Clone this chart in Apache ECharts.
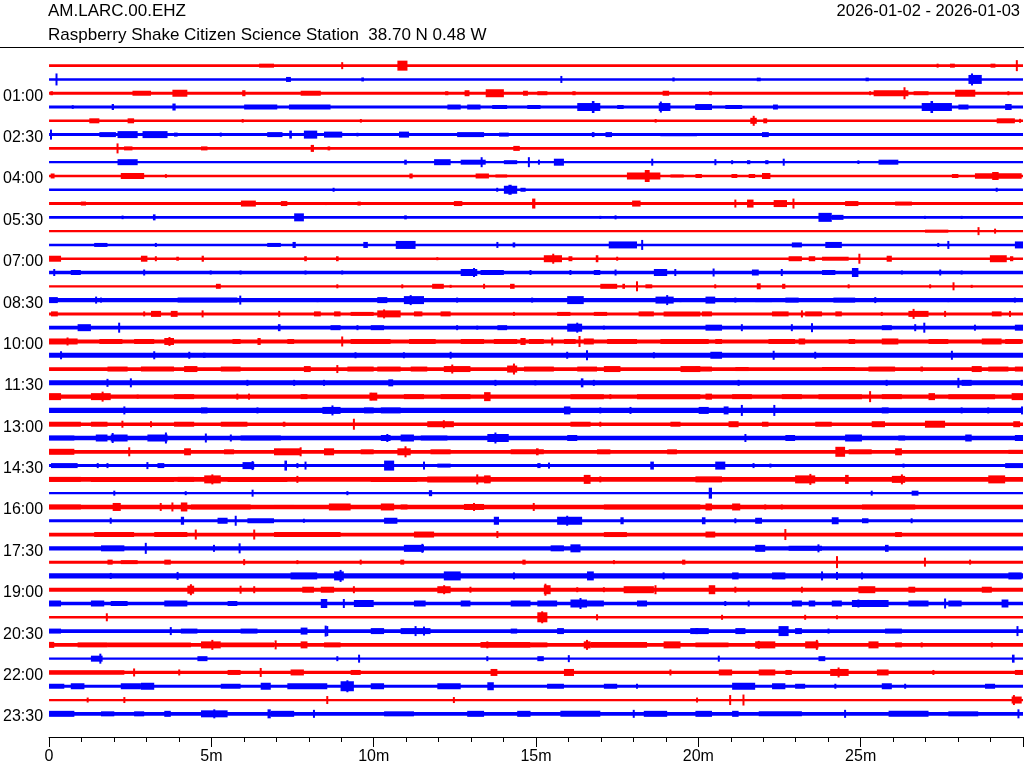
<!DOCTYPE html>
<html><head><meta charset="utf-8">
<script src="https://cdn.jsdelivr.net/npm/echarts@6/dist/echarts.min.js"></script>
<style>html,body{margin:0;padding:0;background:#fff}#c{width:1024px;height:768px}</style>
</head><body><div id="c"></div>
<script>
// ---- header texts ----
const stationCode = "AM.LARC.00.EHZ";
const stationName = "Raspberry Shake Citizen Science Station  38.70 N 0.48 W";
const dateRange = "2026-01-02 - 2026-01-03";

// ---- axis ticks ----
const xTickValues = [0, 5, 10, 15, 20, 25];
const xTickLabels = ["0", "5m", "10m", "15m", "20m", "25m"];
const yTickLines = [2, 5, 8, 11, 14, 17, 20, 23, 26, 29, 32, 35, 38, 41, 44, 47];
const yTickLabels = ["01:00","02:30","04:00","05:30","07:00","08:30","10:00","11:30","13:00","14:30","16:00","17:30","19:00","20:30","22:00","23:30"];

// ---- trace data: 48 half-hour lines ----
// background noise half-amplitude per line
const traceBase = [1.3,1.3,1.5,1.5,1.3,1.5,1.3,1.1,1.3,1.3,1.5,1.3,
                   1.1,1.3,1.3,1.8,1.1,2.1,1.5,1.9,2.0,2.4,1.9,2.5,
                   2.1,2.6,1.8,2.2,1.9,1.5,2.3,1.2,2.2,1.5,1.9,2.2,
                   1.5,2.6,2.0,1.7,1.2,1.8,1.8,1.2,1.6,1.5,1.1,1.8];
// bursts per line: [start minute, end minute, half-amplitude]
const traceEvents = [
 [[6.47,6.93,2],[9.0,9.06,3.5],[10.73,11.04,5],[27.34,27.4,2],[27.75,27.9,2],[29.0,29.15,2],[29.78,29.84,5.5]],
 [[0.2,0.26,6],[7.3,7.45,2.5],[9.62,9.7,2],[15.75,15.81,3.5],[19.2,19.27,2],[21.8,21.92,1.8],[25.15,25.25,1.8],[28.32,28.73,4.5],[28.4,28.46,6]],
 [[0.04,0.12,2],[2.57,3.14,2.5],[3.8,4.26,3.5],[5.95,6.05,3],[7.75,8.37,2.5],[12.2,12.3,2],[12.8,12.95,3],[13.45,14.01,4],[14.6,14.75,2.5],[15.04,15.35,2],[16.12,16.22,2],[18.9,19.1,2.5],[20.33,20.42,2],[25.26,25.32,2],[25.4,26.47,3],[26.32,26.38,6],[26.63,27.09,2],[27.91,28.53,3.5],[29.52,29.58,2]],
 [[0.7,0.76,1.8],[1.93,2.0,3],[3.8,3.9,3.5],[6.01,7.03,2.5],[7.39,8.67,2.5],[12.27,12.68,2.5],[12.88,13.29,2.5],[13.65,14.11,2],[14.73,15.14,2],[16.27,16.98,4],[16.72,16.8,6],[17.5,17.7,2],[18.78,19.14,4],[18.82,18.87,5.5],[19.9,20.0,2.5],[19.91,20.42,3],[20.83,21.35,2],[22.3,22.45,2.5],[26.88,27.81,4],[27.15,27.23,6],[28.01,28.32,2.5],[29.45,29.65,3]],
 [[1.24,1.55,2.5],[2.42,2.62,2.5],[5.94,5.99,1.8],[9.58,9.63,1.8],[18.66,18.71,1.8],[21.6,21.8,3],[21.68,21.73,5],[22.0,22.12,2.5],[29.19,29.75,2.5],[29.88,29.94,2]],
 [[0.03,0.09,5],[1.55,2.06,2.5],[2.11,2.73,3.5],[2.88,3.65,3.5],[3.85,3.96,2],[5.26,5.32,2],[6.72,7.19,2.5],[7.4,7.48,4],[7.85,8.26,4],[8.47,9.03,3],[9.47,9.53,1.8],[10.78,11.09,3],[12.57,13.4,2.5],[13.86,14.16,2],[16.72,16.8,2.5],[17.14,17.34,2.5],[18.83,19.96,1.6],[21.96,22.17,2.5]],
 [[2.08,2.14,5],[2.31,2.57,2],[4.68,4.88,2],[8.06,8.16,3.5],[8.58,8.66,2],[14.3,14.5,2.5]],
 [[2.11,2.73,3],[10.94,11.02,2.5],[11.86,12.37,3],[12.68,13.45,2.5],[13.3,13.35,5],[14.01,14.42,2],[14.76,14.8,5],[15.06,15.12,2.5],[15.55,15.86,3.5],[18.55,18.61,3.5],[20.5,20.55,3],[21.02,21.06,2],[21.5,21.6,2],[22.06,22.16,2],[22.6,22.66,3.5],[24.9,24.96,1.8],[25.55,26.16,2.5]],
 [[0.05,0.17,2.5],[2.21,2.93,3],[3.57,3.63,1.8],[11.1,11.2,2.5],[13.14,13.55,2.5],[13.75,14.11,1.5],[17.8,18.83,3.5],[18.35,18.5,6],[19.14,19.55,1.5],[19.91,20.11,2],[21.02,21.2,2],[21.55,21.75,2],[21.96,22.22,3],[27.81,28.01,2],[28.52,29.96,2.8],[29.05,29.25,4]],
 [[8.74,8.79,2],[13.78,13.83,2],[14.01,14.42,4],[14.15,14.25,5],[14.52,14.68,2],[29.16,29.22,2]],
 [[0.98,1.14,2],[5.91,6.37,3],[7.14,7.34,2.5],[8.5,8.55,1.5],[9.5,9.6,2],[12.47,12.73,2.5],[14.88,14.98,5],[17.96,18.22,3],[21.11,21.17,4],[21.5,21.7,4],[22.32,22.73,3.5],[22.9,22.96,5],[24.52,24.93,2.5],[26.06,26.58,2]],
 [[2.24,2.29,1.8],[3.2,3.28,3],[7.55,7.85,4],[10.94,11.02,2],[16.96,17.0,1.5],[17.42,17.48,2],[23.7,24.11,4.5],[24.11,24.47,2.5],[26.96,27.0,1.5],[28.09,28.13,1.5]],
 [[26.98,27.7,1.5],[28.6,28.66,4],[29.11,29.17,2.5]],
 [[1.39,1.8,2],[3.26,3.32,2],[6.72,7.14,2],[7.5,7.6,3],[9.68,9.82,3],[10.68,11.29,4],[13.78,13.84,3],[14.28,14.36,2.5],[17.24,18.11,3.5],[18.25,18.29,5],[22.88,23.19,2.5],[23.91,24.42,3],[27.36,27.42,2],[27.68,27.72,4],[29.75,30,3.5]],
 [[0.0,0.37,3],[2.83,3.03,3],[3.26,3.32,2.5],[3.92,4.0,2],[4.7,4.77,3],[7.86,7.94,2.5],[8.84,8.92,2.5],[11.94,11.98,1.5],[15.24,15.8,3.5],[15.5,15.56,5],[16.0,16.12,2.5],[16.84,16.92,3.5],[17.48,17.52,2],[22.78,23.19,2.5],[23.4,23.6,2.5],[23.81,24.63,2],[24.94,24.98,5],[25.8,25.96,3],[28.98,29.5,3.5],[29.6,29.7,2.5]],
 [[0.13,0.19,3.5],[0.67,0.98,2.5],[2.9,2.96,3],[4.95,5.01,2],[5.87,5.93,2],[7.87,7.93,2],[9.0,9.06,2],[12.68,13.19,3.5],[13.06,13.12,4.5],[13.29,14.01,2.5],[14.8,14.86,2.5],[16.03,16.09,2.5],[16.78,16.98,2.5],[17.42,17.48,3],[18.63,19.04,3.5],[19.26,19.32,3.5],[20.44,20.5,4],[21.65,21.86,3],[22.54,22.6,3.5],[23.81,24.22,2.5],[24.73,24.93,4.5],[26.24,26.3,2],[27.42,27.48,3],[28.08,28.14,2]],
 [[5.14,5.29,2.5],[8.85,8.91,2],[10.85,10.91,2],[11.8,12.16,2.5],[12.35,12.39,1.5],[13.37,13.43,2.5],[14.2,14.34,2.5],[16.98,17.5,2.5],[17.66,17.74,2.5],[18.09,18.13,5],[18.37,18.58,2],[20.49,20.55,2],[21.8,21.92,3],[22.58,22.68,2.5],[24.6,24.66,2],[27.11,27.17,2],[27.84,27.88,4],[28.4,28.44,1.5]],
 [[0.0,0.27,3],[1.43,1.47,3.5],[1.58,1.62,2.5],[3.96,5.8,2.5],[5.86,5.92,4.5],[8.25,8.29,2],[10.11,10.42,3],[10.93,11.55,4],[11.11,11.17,5],[12.54,12.6,2.5],[14.85,14.91,2.5],[15.96,16.47,4],[18.68,19.24,3.5],[19.01,19.07,5],[19.42,19.48,2],[20.22,20.52,3.5],[21.11,21.17,2.5],[21.75,22.27,2],[22.68,23.09,2.5],[24.16,24.83,2.5],[25.42,25.48,3],[27.67,27.73,2],[29.72,29.78,2.5]],
 [[0.06,0.27,2.5],[2.9,2.96,2.5],[3.14,3.45,3],[3.75,3.96,3],[4.7,4.76,3.5],[7.06,7.12,3],[8.16,8.37,2.5],[8.78,8.98,2.5],[9.29,10.0,2],[10.11,10.83,3.5],[10.29,10.35,4.5],[11.24,11.5,2.5],[12.06,12.37,2.5],[14.3,14.34,2],[15.65,16.06,2],[16.78,17.19,2],[18.16,18.63,2.5],[18.93,20.06,2.5],[20.11,20.42,2.5],[22.27,22.78,2.5],[23.16,23.22,3.5],[23.29,23.81,2.5],[24.22,24.42,2.5],[25.62,25.68,2],[26.47,27.09,3],[26.6,26.66,5],[27.57,27.63,3],[29.04,29.34,2.5],[29.57,29.63,3]],
 [[0.88,1.29,3.5],[2.14,2.18,5],[7.05,7.13,3.5],[8.67,8.98,2.5],[9.47,9.53,2.5],[9.91,10.32,2.5],[12.54,12.6,2.5],[13.16,13.22,2],[13.81,14.11,2.5],[15.96,16.42,4],[16.24,16.3,5],[17.06,17.12,2],[20.22,20.73,3],[21.31,21.37,3.5],[22.85,22.91,3.5],[23.47,23.53,4.5],[25.65,25.96,2.5],[26.65,26.71,3.5],[26.94,26.98,5],[28.49,28.55,3],[29.75,30,3]],
 [[0.0,0.88,3],[0.54,0.6,4],[1.55,2.26,2.5],[2.62,3.24,2.5],[3.55,3.85,3.5],[3.68,3.74,4.5],[5.65,5.9,2.5],[6.42,6.52,3.5],[7.34,7.55,2.5],[9.01,9.05,5],[9.29,10.0,2.5],[9.91,10.52,2.5],[11.09,11.91,2.5],[12.68,13.4,2.5],[13.7,14.42,2.5],[14.52,14.68,3.5],[14.78,15.24,2.5],[15.47,15.53,4],[15.86,16.22,2.5],[16.32,16.36,5.5],[16.47,16.78,3],[17.19,18.11,2.5],[18.83,20.06,2.5],[19.91,20.32,2.5],[20.52,20.73,2.5],[22.16,22.98,2.5],[23.09,23.29,3],[24.63,24.83,2.5],[25.65,26.16,3],[27.09,27.7,2.5],[28.73,29.34,3],[29.45,29.96,2.5]],
 [[0.34,0.4,4],[3.21,3.27,4],[4.29,4.35,3.5],[4.74,4.82,2.5],[9.41,9.47,3],[10.9,10.96,3],[12.34,12.4,3.5],[15.93,15.99,3.5],[16.55,16.59,5],[18.6,18.66,3],[20.37,20.73,3.5],[22.3,22.34,4.5],[23.57,23.63,3.5],[27.79,27.83,4.5]],
 [[1.8,2.42,2.5],[2.83,3.85,2.5],[4.16,4.57,3],[5.29,5.9,2.5],[7.85,8.06,3],[8.86,8.9,4],[9.19,10.0,2.5],[10.11,10.83,2.5],[11.14,11.65,2.5],[12.16,12.98,3],[12.4,12.44,4.5],[14.11,14.42,3.5],[14.3,14.34,5.5],[14.63,15.55,2.5],[16.27,16.88,2.5],[17.09,17.6,3],[19.45,20.06,3],[19.91,20.42,2.5],[21.14,21.55,2],[23.81,24.83,2],[25.24,26.06,2.5],[26.84,26.92,2.5],[28.42,28.73,3],[28.93,29.55,2.5],[29.75,30,2.5]],
 [[1.77,1.83,4],[2.49,2.55,4.5],[6.08,6.14,3],[7.52,7.58,3],[8.44,8.5,3],[10.45,10.6,3.5],[13.72,13.78,3],[14.95,15.01,2.5],[16.38,16.46,4.5],[16.75,16.81,3],[21.21,21.27,3],[25.77,25.83,3],[27.99,28.03,5],[28.11,28.42,3],[29.93,29.99,3]],
 [[0.0,0.37,3.5],[1.29,1.9,3.5],[1.63,1.67,5],[2.7,2.76,2],[3.85,4.47,2.5],[5.77,5.83,3],[6.13,6.19,3],[7.75,7.96,2.5],[9.87,9.93,4],[9.91,10.11,4],[10.93,11.55,2.5],[12.06,12.98,2.5],[13.4,13.6,4.5],[16.06,17.09,2.5],[17.26,17.32,2.5],[18.11,20.06,2.5],[20.22,20.42,3],[21.04,21.65,2.5],[22.57,23.19,2.5],[23.7,25.04,2.5],[25.27,25.31,5.5],[25.65,26.27,2.5],[27.09,27.29,3.5],[27.7,29.14,2.5],[29.65,30,3.5]],
 [[2.29,2.35,4],[4.68,4.88,3],[6.39,6.45,3],[8.42,8.98,3.5],[8.71,8.75,5],[9.7,10.0,3],[10.22,10.83,3],[15.86,16.06,4],[16.95,17.01,3],[17.88,17.94,3.5],[20.01,20.32,3.5],[20.78,20.93,4],[21.32,21.36,5.5],[22.32,22.36,5.5],[25.65,25.86,3],[28.08,28.14,3],[28.9,28.96,3],[29.94,30,4]],
 [[0.0,0.98,2.5],[1.29,1.8,2.5],[2.23,2.29,3.5],[3.11,3.17,3],[3.85,4.47,2.5],[5.29,6.11,2.5],[7.2,7.28,2.5],[9.37,9.41,5.5],[11.65,12.47,3],[12.13,12.19,4],[16.06,16.68,2.5],[16.95,17.01,2.5],[19.14,19.45,2.5],[20.93,21.24,3],[21.96,22.16,2.5],[23.6,24.11,2.5],[25.34,25.75,3],[26.98,27.6,3.5],[29.7,29.91,3]],
 [[0.0,0.78,2.5],[1.44,1.8,3.5],[1.9,2.42,3.5],[1.94,1.98,5],[3.03,3.65,3.5],[3.58,3.62,5.5],[4.81,4.85,4.5],[5.57,5.63,3.5],[5.9,7.14,2.5],[10.22,10.52,3],[10.4,10.44,4],[10.83,11.24,3.5],[11.45,12.27,2.5],[13.5,14.16,4],[13.73,13.77,5.5],[15.96,16.27,3],[21.43,21.47,4],[22.68,22.98,3],[24.52,25.04,3.5],[26.16,26.37,2.5],[28.22,28.42,3.5],[29.75,30,3]],
 [[0.0,0.78,3],[2.45,2.49,4.5],[4.16,4.37,3.5],[5.39,5.7,2.5],[6.93,7.75,3.5],[7.73,7.77,4.5],[8.47,8.78,3.5],[9.6,10.0,2.5],[10.73,11.14,3.5],[10.96,11.0,5.5],[11.75,12.37,2.5],[14.22,15.24,2.5],[15.0,15.08,3.5],[16.88,17.29,2.5],[19.04,19.34,2.5],[24.22,24.52,5],[24.63,25.34,2.5],[26.06,26.27,3.5],[29.55,30,2]],
 [[0.06,0.88,2.5],[1.47,1.53,2.5],[1.77,1.83,2.5],[3.0,3.06,3.5],[3.34,3.55,2.5],[5.96,6.32,3.5],[6.25,6.29,4.5],[7.25,7.33,5],[7.62,7.68,2.5],[7.87,7.93,4],[10.32,10.63,5],[11.53,11.57,4],[11.96,12.37,2],[15.04,15.14,2.5],[15.38,15.42,3],[18.52,18.63,4],[20.52,20.83,4],[21.67,21.73,2.5],[22.19,22.25,2],[26.3,26.34,2],[29.45,30,2.5]],
 [[0.0,0.98,2.5],[1.29,3.85,2.5],[3.96,4.47,2.5],[4.78,5.29,4],[5.0,5.06,5],[5.5,7.34,2.5],[7.62,7.68,3.5],[9.91,11.34,2.5],[11.65,13.6,3],[13.16,13.22,5],[13.4,13.6,4],[16.47,16.68,4.5],[16.95,17.01,3],[19.91,20.73,3],[22.98,23.6,4],[23.43,23.47,5.5],[24.52,24.63,4.5],[25.96,26.37,3.5],[26.25,26.29,5],[28.93,29.45,4]],
 [[1.98,2.04,2.5],[4.19,4.23,2],[6.25,6.29,3.5],[9.17,9.21,2],[11.7,11.8,3],[20.32,20.42,5.5],[25.32,25.36,2.5],[26.57,26.78,2.5]],
 [[0.0,0.98,2.5],[1.96,2.21,4],[3.42,3.46,4],[3.78,3.82,4.5],[4.06,4.26,4.5],[4.37,6.21,2.5],[6.93,7.55,2],[8.62,9.29,3.5],[10.22,10.63,3.5],[10.83,11.04,2.5],[12.78,13.4,3],[13.07,13.11,4],[14.91,14.95,4],[17.09,20.06,2.5],[20.22,20.42,3.5],[21.04,21.29,3.5],[22.03,22.09,2.5],[22.54,22.6,2.5],[25.04,26.68,2.5]],
 [[1.87,1.93,3],[4.06,4.16,4],[5.19,5.5,3],[5.73,5.77,5],[6.11,6.93,2.5],[7.83,7.87,2],[10.32,10.73,3],[13.7,13.86,4],[15.65,16.42,4],[15.94,15.98,5],[17.6,17.7,3.5],[20.11,20.22,3.5],[21.11,21.17,2.5],[21.75,21.96,3],[24.11,24.32,3.5],[25.04,25.24,2.5],[26.54,26.6,2.5]],
 [[1.39,2.62,2.5],[3.24,4.26,2.5],[4.5,4.54,5],[6.3,6.34,5],[6.93,8.98,2.5],[11.24,11.86,3],[13.78,13.84,3.5],[17.09,17.8,2.5],[20.22,20.52,3],[22.66,22.7,5.5],[26.06,26.27,2.5]],
 [[1.6,2.32,3],[2.96,3.0,5.5],[5.05,5.11,3.5],[5.85,5.89,5],[10.93,11.55,3.5],[11.48,11.52,4.5],[15.45,15.86,3],[16.06,16.37,4],[21.75,22.06,3.5],[22.78,23.81,2.5],[23.68,23.72,4],[25.75,25.86,3.5]],
 [[1.8,1.96,2.5],[2.21,2.73,2],[3.55,3.75,2.5],[5.98,6.04,3],[7.62,7.68,2],[9.57,9.63,2.5],[10.82,10.94,2.5],[14.58,14.68,2.5],[17.37,17.43,2],[19.5,19.6,2.5],[24.25,24.29,6],[26.96,27.0,4.5],[28.34,28.4,2.5]],
 [[1.87,1.93,3],[3.94,3.98,4],[7.44,8.26,3.5],[8.78,9.08,4.5],[8.96,9.0,6],[12.16,12.68,4.5],[14.3,14.34,3.5],[16.57,16.78,4.5],[18.91,18.95,3.5],[21.04,21.24,3.5],[22.27,22.68,3.5],[23.79,23.83,4.5],[24.25,24.29,4],[25.02,25.06,3.5],[29.55,29.96,3.5]],
 [[4.26,4.47,4],[4.35,4.39,5.5],[5.87,5.93,4],[6.29,6.35,3.5],[7.8,8.16,3],[8.37,8.78,3],[9.36,9.42,3.5],[11.96,12.37,3.5],[12.15,12.19,4.5],[12.95,13.01,3],[15.24,15.45,4.5],[15.27,15.31,6],[16.24,16.3,2.5],[17.06,17.12,2.5],[17.7,18.63,3.5],[18.66,18.7,4.5],[20.32,20.52,4.5],[21.11,21.17,3],[23.16,23.22,3],[24.93,25.45,3.5],[26.47,26.68,3],[28.73,29.04,3]],
 [[0.0,0.37,3],[1.29,1.7,3],[1.9,2.42,2.5],[3.55,4.26,3],[5.5,5.8,2.5],[8.37,8.57,4.5],[9.06,9.1,4.5],[9.39,10.0,3.5],[11.24,11.6,3],[12.68,12.98,3],[14.22,14.83,3],[15.04,15.65,3],[16.06,16.57,4],[16.35,16.39,5.5],[16.57,17.09,3],[18.11,18.42,3],[20.8,20.86,2.5],[21.52,21.58,3],[22.88,23.19,3],[23.4,23.6,3],[24.11,24.42,3],[24.73,25.86,3.5],[24.9,24.96,4],[26.47,27.09,3],[27.58,27.62,5],[27.7,28.11,3],[29.34,29.55,4]],
 [[1.76,1.8,4],[15.04,15.35,5],[15.17,15.21,6],[16.86,16.9,3],[20.7,20.76,2.5],[23.26,23.32,2.5],[24.25,24.29,2]],
 [[0.0,0.37,2.5],[3.73,3.77,4],[4.06,4.57,2.5],[5.9,6.42,2.5],[7.75,7.96,3.5],[8.5,8.54,5.5],[8.55,8.59,5],[9.91,10.32,3],[10.83,11.75,3],[11.27,11.31,5],[11.53,11.57,4.5],[14.22,14.42,2.5],[15.65,15.86,3],[19.75,20.0,3],[19.91,20.32,3],[21.14,21.45,3],[22.47,22.78,5],[22.98,23.19,3],[23.98,24.04,2.5],[25.75,26.27,2.5],[29.81,29.85,5]],
 [[0.0,0.16,3],[0.88,1.8,2.5],[1.8,4.37,2.5],[4.68,5.29,3.5],[5.01,5.05,5],[5.29,6.93,2.5],[6.96,7.0,4.5],[7.75,7.96,3.5],[8.47,8.98,2.5],[13.29,14.83,3],[13.47,13.53,3.5],[14.83,15.35,2.5],[16.47,16.68,3.5],[16.55,16.59,5],[16.68,18.42,3],[18.93,19.45,3.5],[19.91,20.93,2.5],[21.75,22.37,3.5],[21.84,21.88,4],[23.29,23.7,3.5],[23.63,23.67,5],[25.24,25.55,3.5],[26.06,26.27,2.5],[26.85,26.91,2.5],[29.01,29.07,2.5]],
 [[1.29,1.65,3],[1.56,1.6,5],[4.57,4.88,2.5],[8.85,8.91,2.5],[9.52,9.58,4],[13.47,13.53,2.5],[15.04,15.24,2.5],[15.98,16.04,3.5],[20.6,20.66,3],[23.7,23.91,2.5],[29.66,29.74,4]],
 [[0.0,2.32,2.2],[2.6,2.64,4],[3.98,4.04,3],[5.5,5.9,2.5],[6.5,6.54,4.5],[7.44,7.85,3],[9.29,9.6,2.5],[13.6,13.81,3.5],[15.86,16.17,3.5],[19.11,19.17,3],[20.63,21.04,3],[21.86,22.37,3],[22.68,22.88,2.5],[24.06,24.63,3.5],[24.3,24.34,5],[25.5,25.86,3],[27.21,27.27,2.5],[29.75,30,2.5]],
 [[0.0,0.47,2.5],[0.67,1.09,3],[2.21,2.83,3],[2.83,3.24,3.5],[5.29,5.9,2.5],[6.52,6.83,3.5],[7.34,8.57,3],[8.98,9.39,5],[9.17,9.21,6],[9.91,10.32,3],[11.96,12.68,3],[13.5,13.7,4],[15.34,15.86,2.5],[17.09,17.5,2.5],[18.08,18.14,2.5],[21.04,21.75,3.5],[22.27,22.68,3],[22.98,23.29,2.5],[24.19,24.25,2.5],[25.65,25.96,3],[26.34,26.4,2.5],[28.83,29.14,2.5]],
 [[1.16,1.22,2.5],[2.29,2.35,3],[8.55,8.59,4],[12.45,12.49,3],[19.93,19.99,2.5],[20.96,21.0,5],[21.37,21.41,5.5],[29.65,29.96,3.5],[29.7,29.74,5]],
 [[0.0,0.78,3],[1.6,2.01,2.5],[2.62,2.93,2.5],[3.55,3.75,3],[4.68,5.5,3.5],[5.07,5.11,4.5],[6.73,6.83,4.5],[6.83,7.55,3],[8.14,8.18,4],[10.32,11.24,2.5],[12.88,13.4,3],[14.42,14.83,3],[15.75,16.98,3],[17.99,18.03,4],[18.32,19.04,3],[19.91,20.42,3],[21.04,21.24,3],[21.86,23.19,2.5],[24.5,24.54,4],[25.86,27.09,3],[27.7,28.62,2.5],[29.84,29.88,4.5]]
];

const AMP_PER_LINE = 13.8;          // amplitude units per line spacing
const LABEL_SHIFT = 0.22;           // time labels sit slightly below their trace
const LINE_COLORS = ['#ff0000', '#0000ff'];

// build custom-series rows: [line, start, end, amp]
const rows = [];
traceBase.forEach((b, i) => rows.push([i, 0, 30, b]));
traceEvents.forEach((evs, i) => evs.forEach(ev => rows.push([i, ev[0], ev[1], ev[2]])));

function renderItem(params, api) {
  const li = api.value(0), s = api.value(1), e = api.value(2), a = api.value(3);
  const k = a / AMP_PER_LINE;
  const pS = api.coord([s, li]);
  const pE = api.coord([e, li]);
  const yA = api.coord([s, li - k])[1];
  const yB = api.coord([s, li + k])[1];
  let x0 = pS[0], x1 = pE[0];
  if (x1 - x0 < 2) { const c = (x0 + x1) / 2; x0 = c - 1; x1 = c + 1; }
  const y0 = Math.min(yA, yB), y1 = Math.max(yA, yB);
  return { type: 'rect', shape: { x: x0, y: y0, width: x1 - x0, height: y1 - y0 }, style: { fill: LINE_COLORS[li % 2] } };
}

const chart = echarts.init(document.getElementById('c'), null, { renderer: 'canvas' });
const FONT = 'Liberation Sans, Arial, sans-serif';
chart.setOption({
  animation: false,
  backgroundColor: '#fff',
  title: [
    { text: stationCode, left: 48, top: 3, padding: 0, textStyle: { fontFamily: FONT, fontSize: 17, fontWeight: 'normal', color: '#000' } },
    { text: stationName, left: 48, top: 27, padding: 0, textStyle: { fontFamily: FONT, fontSize: 17, fontWeight: 'normal', color: '#000' } },
    { text: dateRange, right: 4, top: 3, padding: 0, textStyle: { fontFamily: FONT, fontSize: 16.5, fontWeight: 'normal', color: '#000' } }
  ],
  graphic: [{ type: 'line', shape: { x1: 0, y1: 47.5, x2: 1024, y2: 47.5 }, style: { stroke: '#000', lineWidth: 1 } }],
  grid: { left: 48, right: 1, top: 48, bottom: 31 },
  xAxis: {
    type: 'value', min: 0, max: 30, interval: 5, position: 'bottom',
    axisLine: { show: true, onZero: false, lineStyle: { color: '#000', width: 1 } },
    axisTick: { show: true, length: 10, lineStyle: { color: '#000' } },
    minorTick: { show: true, splitNumber: 5, length: 5, lineStyle: { color: '#000' } },
    splitLine: { show: false },
    axisLabel: {
      showMaxLabel: false, margin: 12, color: '#000', fontFamily: FONT, fontSize: 16,
      formatter: v => { const i = xTickValues.indexOf(v); return i >= 0 ? xTickLabels[i] : ''; }
    }
  },
  yAxis: {
    type: 'value', inverse: true, min: -1.28, max: 48.68,
    axisLine: { show: false }, axisTick: { show: false }, splitLine: { show: false },
    axisLabel: {
      customValues: yTickLines.map(v => v + LABEL_SHIFT), margin: 6, color: '#000', fontFamily: FONT, fontSize: 16,
      formatter: v => { const i = yTickLines.indexOf(Math.round(v)); return i >= 0 ? yTickLabels[i] : ''; }
    }
  },
  series: [{ type: 'custom', renderItem: renderItem, data: rows, clip: true, encode: { x: [1, 2], y: 0 } }]
});
</script>
</body></html>
